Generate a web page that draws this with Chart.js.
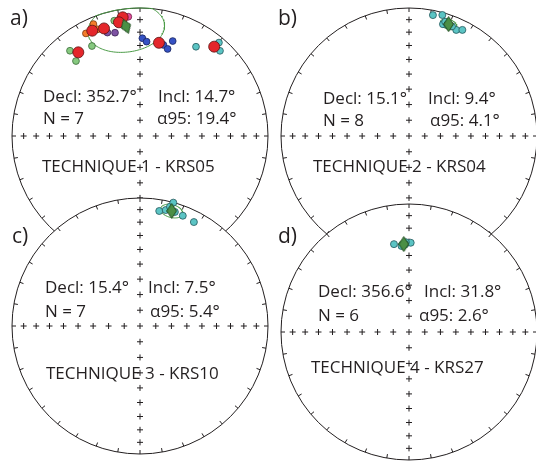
<!DOCTYPE html>
<html><head><meta charset="utf-8">
<script src="https://cdn.jsdelivr.net/npm/chart.js@4.4.0/dist/chart.umd.min.js"></script>
<style>
html,body{margin:0;padding:0;background:#fff;width:536px;height:461px;overflow:hidden;position:relative}
.p{position:absolute}
</style></head><body>
<div class="p" id="w0"><canvas id="c0"></canvas></div>
<div class="p" id="w1"><canvas id="c1"></canvas></div>
<div class="p" id="w2"><canvas id="c2"></canvas></div>
<div class="p" id="w3"><canvas id="c3"></canvas></div>
<script>
// ---------------- DATA ----------------
const panelLabels = ['a)', 'b)', 'c)', 'd)'];
const techniqueLabels = ['TECHNIQUE 1 - KRS05', 'TECHNIQUE 2 - KRS04', 'TECHNIQUE 3 - KRS10', 'TECHNIQUE 4 - KRS27'];
const statDecl = ['352.7', '15.1', '15.4', '356.6'];
const statIncl = ['14.7', '9.4', '7.5', '31.8'];
const statN = [7, 8, 7, 6];
const statA95 = ['19.4', '4.1', '5.4', '2.6'];
// plotted mean directions (diamonds)
const meanDecl = [352.7, 19.5, 15.4, 356.6];
const meanIncl = [14.7, 8.1, 7.5, 31.8];
const meanA95 = [19.4, 4.1, 5.4, 2.6];

// panel a) individual directions
const redDeclA = [351.7, 349.5, 341.5, 335.6, 323.6, 11.5, 39.7];
const redInclA = [7.0, 10.6, 12.4, 10.6, 19.9, 26.6, 10.2];
const greenDeclA = [320.6, 319.5, 331.9, 347.4];
const greenInclA = [14.9, 24.0, 21.4, 8.5];
const orangeDeclA = [337.4, 332.2, 338.4];
const orangeInclA = [5.9, 10.3, 11.3];
const purpleDeclA = [342.5, 346.4];
const purpleInclA = [16.4, 18.1];
const pinkDeclA = [354.4];
const pinkInclA = [7.1];
const blueDeclA = [1.4, 4.0, 14.4, 17.6, 19.0];
const blueInclA = [24.6, 27.0, 27.4, 29.4, 22.6];
const cyanDeclA = [32.1, 40.2, 43.2];
const cyanInclA = [18.8, 5.0, 9.6];
// panel b)
const declB = [11.2, 15.4, 16.9, 24.0, 26.7, 17.6, 21.4, 19.0];
const inclB = [4.2, 2.2, 9.6, 10.2, 8.0, 7.1, 8.8, 9.0];
// panel c)
const declC = [9.5, 12.5, 14.1, 15.1, 21.2, 27.4, 17.0];
const inclC = [9.8, 8.0, 4.4, 0.2, 8.4, 9.4, 7.6];
// panel d)
const declD = [350.3, 1.1, 356.0, 358.0, 355.0, 357.5];
const inclD = [31.0, 30.9, 32.5, 30.5, 33.0, 32.0];

// net graticule
const gridIncl = [10, 20, 30, 40, 50, 60, 70, 80];
const gridAz = [0, 90, 180, 270];
const rimTickStep = 10;

// ---------------- LAYOUT ----------------
const R = 128, PAD = 16, S = 2 * (R + PAD), L = (R + PAD) / R;
const centerX = [140, 409, 140, 409];
const centerY = [136, 136, 326, 332];
// text offsets relative to net centre (px)
const txtOff = [
  {lab:[-130,-111], dec:[-97,-34], inc:[18,-34], n:[-97,-12], a:[17,-12], t:[-98,36]},
  {lab:[-131,-111], dec:[-86,-32], inc:[19,-32], n:[-86,-10], a:[21,-10], t:[-96,36]},
  {lab:[-128,-83], dec:[-95,-33], inc:[8,-33], n:[-95,-9], a:[10,-9], t:[-94,53]},
  {lab:[-131,-89], dec:[-91,-35], inc:[15,-35], n:[-91,-11], a:[10,-11], t:[-98,41]}
];
const diamondRot = [-20, 0, 0, 0];

const INK = '#231f20';
const D2R = Math.PI / 180;
function proj(dec, inc, clampRim) {
  let r = Math.SQRT2 * Math.sin((90 - inc) / 2 * D2R);
  if (clampRim && r > 1) r = 1;
  return {x: r * Math.sin(dec * D2R), y: r * Math.cos(dec * D2R)};
}
function pts(decs, incs) { return decs.map((d, i) => proj(d, incs[i])); }
function smallCircle(dec, inc, a95) {
  const m = [Math.cos(inc*D2R)*Math.cos(dec*D2R), Math.cos(inc*D2R)*Math.sin(dec*D2R), Math.sin(inc*D2R)];
  const u = [-Math.sin(dec*D2R), Math.cos(dec*D2R), 0];
  const w = [m[1]*u[2]-m[2]*u[1], m[2]*u[0]-m[0]*u[2], m[0]*u[1]-m[1]*u[0]];
  const ca = Math.cos(a95*D2R), sa = Math.sin(a95*D2R), out = [];
  for (let t = 0; t <= 360; t += 3) {
    const ct = Math.cos(t*D2R), st = Math.sin(t*D2R);
    const v = [0,1,2].map(k => ca*m[k] + sa*(ct*u[k] + st*w[k]));
    const I = Math.asin(Math.max(-1, Math.min(1, v[2]))) / D2R;
    const D = Math.atan2(v[1], v[0]) / D2R;
    out.push(proj(D, I, true));
  }
  return out;
}
function gridPts() {
  const o = [proj(0, 90)];
  gridAz.forEach(a => gridIncl.forEach(i => o.push(proj(a, i))));
  return o;
}
function diamondImg() {
  const c = document.createElement('canvas');
  c.width = 11; c.height = 16;
  const g = c.getContext('2d');
  g.beginPath(); g.moveTo(5.5, 0.6); g.lineTo(10.4, 8); g.lineTo(5.5, 15.4); g.lineTo(0.6, 8); g.closePath();
  g.fillStyle = '#4b8f45'; g.fill(); g.strokeStyle = '#1f4a1f'; g.lineWidth = 1; g.stroke();
  return c;
}
const DIA = diamondImg();

function dots(data, fill, border, radius, order) {
  return {data, pointBackgroundColor: fill, pointBorderColor: border, pointBorderWidth: 0.8,
          pointRadius: radius, showLine: false, order, clip: false};
}

const netPlugin = {
  id: 'net',
  beforeDatasetsDraw(chart) {
    const idx = chart.$panel;
    const ctx = chart.ctx, x = chart.scales.x, y = chart.scales.y;
    const cx = x.getPixelForValue(0), cy = y.getPixelForValue(0);
    const rp = x.getPixelForValue(1) - cx;
    ctx.save();
    ctx.beginPath(); ctx.arc(cx, cy, rp, 0, 2*Math.PI);
    ctx.fillStyle = '#fff'; ctx.fill();
    ctx.lineWidth = 1; ctx.strokeStyle = INK; ctx.stroke();
    for (let a = 0; a < 360; a += rimTickStep) {
      const s = Math.sin(a*D2R), c = Math.cos(a*D2R);
      ctx.beginPath();
      ctx.moveTo(cx + rp*s, cy - rp*c);
      ctx.lineTo(cx + (rp-4)*s, cy - (rp-4)*c);
      ctx.stroke();
    }
    const o = txtOff[idx];
    ctx.fillStyle = INK; ctx.textAlign = 'left'; ctx.textBaseline = 'alphabetic';
    ctx.font = '21px "Open Sans"';
    ctx.fillText(panelLabels[idx], cx + o.lab[0], cy + o.lab[1]);
    ctx.font = '17px "Open Sans"';
    ctx.fillText('Decl: ' + statDecl[idx] + '°', cx + o.dec[0], cy + o.dec[1]);
    ctx.fillText('Incl: ' + statIncl[idx] + '°', cx + o.inc[0], cy + o.inc[1]);
    ctx.fillText('N = ' + statN[idx], cx + o.n[0], cy + o.n[1]);
    ctx.fillText('α95: ' + statA95[idx] + '°', cx + o.a[0], cy + o.a[1]);
    ctx.fillText(techniqueLabels[idx], cx + o.t[0], cy + o.t[1]);
    ctx.restore();
  }
};

function build(idx, sampleSets) {
  const wrap = document.getElementById('w' + idx);
  wrap.style.left = (centerX[idx] - R - PAD) + 'px';
  wrap.style.top = (centerY[idx] - R - PAD) + 'px';
  wrap.style.width = S + 'px'; wrap.style.height = S + 'px';
  const cv = document.getElementById('c' + idx);
  cv.width = S; cv.height = S;
  const datasets = [
    {data: [proj(meanDecl[idx], meanIncl[idx])], pointStyle: DIA, pointRadius: 8,
     rotation: diamondRot[idx], order: 0, clip: false, showLine: false},
    ...sampleSets,
    {data: smallCircle(meanDecl[idx], meanIncl[idx], meanA95[idx]), showLine: true, pointRadius: 0,
     borderColor: '#4c9c48', borderWidth: 1, tension: 0, order: 8, clip: false, fill: false},
    {data: gridPts(), pointStyle: 'cross', pointRadius: 3, pointBorderColor: INK, pointBorderWidth: 1,
     showLine: false, order: 9, clip: false}
  ];
  return new Chart(cv, {
    type: 'scatter',
    data: {datasets},
    options: {
      responsive: false, animation: false, events: [],
      layout: {padding: 0, autoPadding: false},
      plugins: {legend: {display: false}, tooltip: {enabled: false}},
      scales: {
        x: {type: 'linear', min: -L, max: L, display: false},
        y: {type: 'linear', min: -L, max: L, display: false}
      }
    },
    plugins: [{id: 'idx', beforeInit(c) { c.$panel = idx; }}, netPlugin]
  });
}

const CY = '#5bc4c4', CYB = '#24585c';
build(0, [
  dots(pts(redDeclA, redInclA), '#e4272b', '#5a1212', 5.5, 1),
  dots(pts(greenDeclA, greenInclA), '#86c97f', '#3b6b3a', 3.4, 2),
  dots(pts(orangeDeclA, orangeInclA), '#f47c2a', '#7a3a10', 3.4, 2),
  dots(pts(purpleDeclA, purpleInclA), '#7d52a3', '#3a2250', 3.4, 2),
  dots(pts(pinkDeclA, pinkInclA), '#e64e9c', '#6a2046', 3.4, 2),
  dots(pts(blueDeclA, blueInclA), '#3552c4', '#1a2660', 3.4, 2),
  dots(pts(cyanDeclA, cyanInclA), CY, CYB, 3.4, 2)
]);
build(1, [dots(pts(declB, inclB), CY, CYB, 3.5, 2)]);
build(2, [dots(pts(declC, inclC), CY, CYB, 3.5, 2)]);
build(3, [dots(pts(declD, inclD), CY, CYB, 3.5, 2)]);
</script>
</body></html>
